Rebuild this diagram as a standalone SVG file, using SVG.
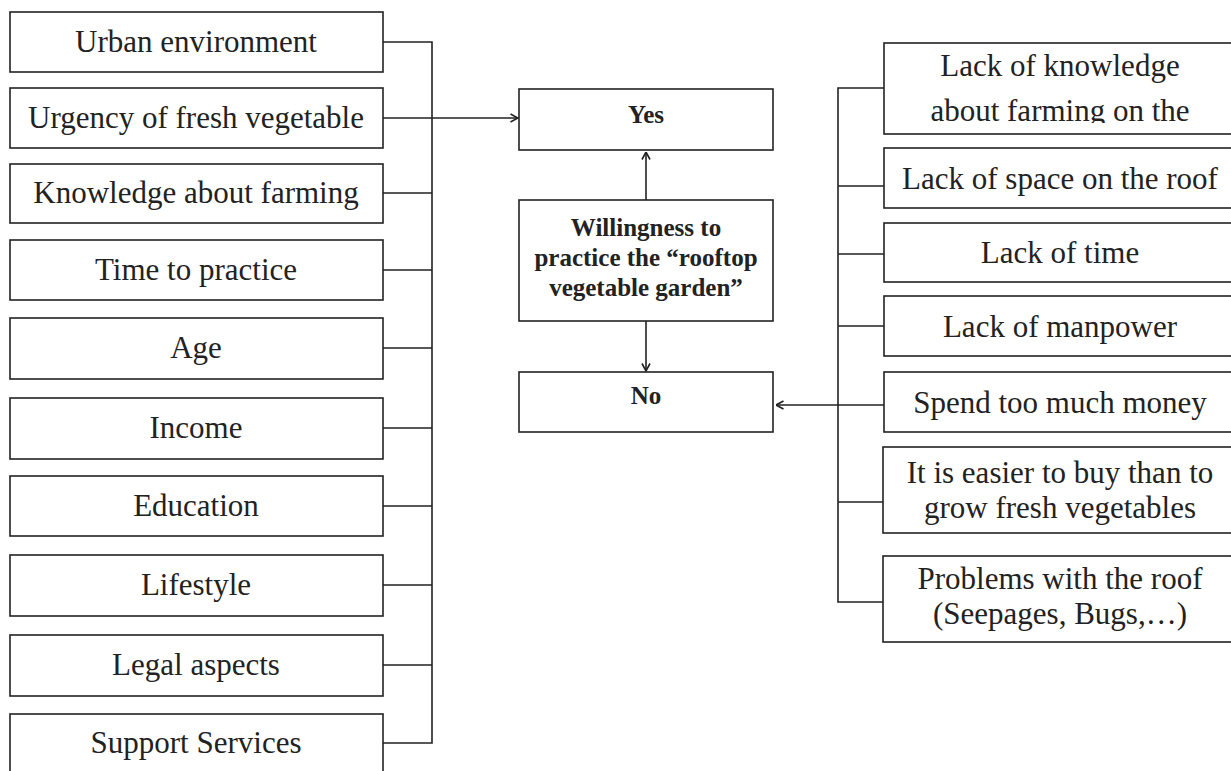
<svg xmlns="http://www.w3.org/2000/svg" width="1231" height="771" viewBox="0 0 1231 771">
<style>
.box{fill:#fff;stroke:#222;stroke-width:1.6}
.t{font-family:"Liberation Serif","Times New Roman",serif;font-size:31px;fill:#222;text-anchor:middle}
.b{font-family:"Liberation Serif","Times New Roman",serif;font-size:25px;font-weight:bold;fill:#222;text-anchor:middle}
.c{fill:none;stroke:#222;stroke-width:1.6}
</style>
<defs>
<marker id="ah" viewBox="0 0 10 10" refX="9.5" refY="5" markerWidth="10" markerHeight="10" markerUnits="userSpaceOnUse" orient="auto">
<polyline points="2,1 9.5,5 2,9" fill="none" stroke="#222" stroke-width="1.6"/>
</marker>
<clipPath id="clip1"><rect x="884" y="43" width="360" height="80"/></clipPath>
</defs>
<rect width="1231" height="771" fill="#fff"/>
<g id="connectors">
<path class="c" d="M383,42 H432 V743 H383"/>
<path class="c" d="M383,118 H518" marker-end="url(#ah)"/>
<path class="c" d="M383,193 H432 M383,270 H432 M383,348 H432 M383,428 H432 M383,506 H432 M383,585 H432 M383,665 H432"/>
<path class="c" d="M884,88 H838 V602 H884"/>
<path class="c" d="M884,186 H838 M884,254 H838 M884,326 H838 M884,502 H838"/>
<path class="c" d="M884,405 H776" marker-end="url(#ah)"/>
<path class="c" d="M646,200 V152" marker-end="url(#ah)"/>
<path class="c" d="M646,321 V371" marker-end="url(#ah)"/>
</g>
<g id="n-urban"><rect class="box" x="10" y="12" width="373" height="60"/><text class="t" x="196" y="52">Urban environment</text></g>
<g id="n-urgency"><rect class="box" x="10" y="88" width="373" height="60"/><text class="t" x="196" y="128">Urgency of fresh vegetable</text></g>
<g id="n-knowledge"><rect class="box" x="10" y="164" width="373" height="59"/><text class="t" x="196" y="203">Knowledge about farming</text></g>
<g id="n-time"><rect class="box" x="10" y="240" width="373" height="60"/><text class="t" x="196" y="280">Time to practice</text></g>
<g id="n-age"><rect class="box" x="10" y="318" width="373" height="61"/><text class="t" x="196" y="358">Age</text></g>
<g id="n-income"><rect class="box" x="10" y="398" width="373" height="61"/><text class="t" x="196" y="438">Income</text></g>
<g id="n-education"><rect class="box" x="10" y="476" width="373" height="60"/><text class="t" x="196" y="516">Education</text></g>
<g id="n-lifestyle"><rect class="box" x="10" y="555" width="373" height="61"/><text class="t" x="196" y="595">Lifestyle</text></g>
<g id="n-legal"><rect class="box" x="10" y="635" width="373" height="61"/><text class="t" x="196" y="675">Legal aspects</text></g>
<g id="n-support"><rect class="box" x="10" y="714" width="373" height="62"/><text class="t" x="196" y="753">Support Services</text></g>
<g id="n-yes"><rect class="box" x="519" y="89" width="254" height="61"/><text class="b" x="646" y="123">Yes</text></g>
<g id="n-will"><rect class="box" x="519" y="200" width="254" height="121"/><text class="b" x="646" y="236">Willingness to</text><text class="b" x="646" y="266">practice the “rooftop</text><text class="b" x="646" y="296">vegetable garden”</text></g>
<g id="n-no"><rect class="box" x="519" y="372" width="254" height="60"/><text class="b" x="646" y="404">No</text></g>
<g id="n-lackknow"><rect class="box" x="884" y="43" width="360" height="91"/><g clip-path="url(#clip1)"><text class="t" x="1060" y="76">Lack of knowledge</text><text class="t" x="1060" y="121">about farming on the</text></g></g>
<g id="n-space"><rect class="box" x="884" y="148" width="360" height="60"/><text class="t" x="1060" y="189">Lack of space on the roof</text></g>
<g id="n-ltime"><rect class="box" x="884" y="223" width="360" height="59"/><text class="t" x="1060" y="263">Lack of time</text></g>
<g id="n-manpower"><rect class="box" x="884" y="296" width="360" height="60"/><text class="t" x="1060" y="337">Lack of manpower</text></g>
<g id="n-money"><rect class="box" x="884" y="372" width="360" height="60"/><text class="t" x="1060" y="413">Spend too much money</text></g>
<g id="n-easier"><rect class="box" x="883" y="447" width="360" height="86"/><text class="t" x="1060" y="483">It is easier to buy than to</text><text class="t" x="1060" y="518">grow fresh vegetables</text></g>
<g id="n-roof"><rect class="box" x="883" y="556" width="360" height="86"/><text class="t" x="1060" y="589">Problems with the roof</text><text class="t" x="1060" y="624">(Seepages, Bugs,…)</text></g>
</svg>
